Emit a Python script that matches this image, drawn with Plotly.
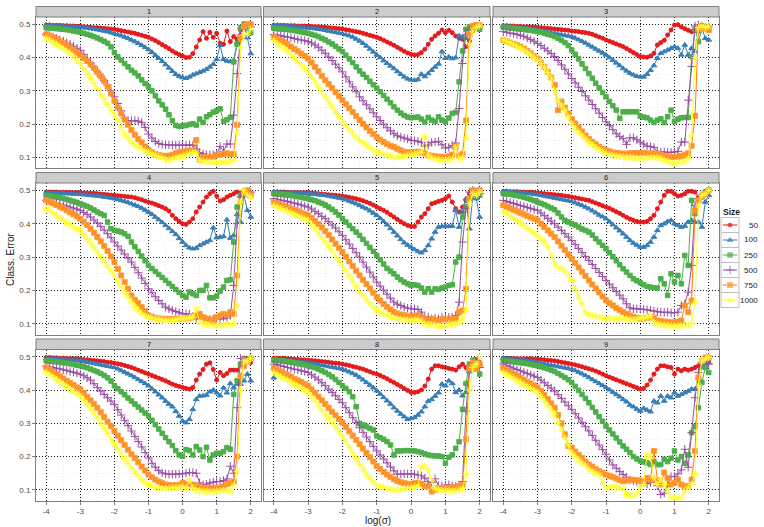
import plotly.graph_objects as go

LOG_SIGMA = [-4.0, -3.9, -3.8, -3.7, -3.6, -3.5, -3.4, -3.3, -3.2, -3.1,
             -3.0, -2.9, -2.8, -2.7, -2.6, -2.5, -2.4, -2.3, -2.2, -2.1,
             -2.0, -1.9, -1.8, -1.7, -1.6, -1.5, -1.4, -1.3, -1.2, -1.1,
             -1.0, -0.9, -0.8, -0.7, -0.6, -0.5, -0.4, -0.3, -0.2, -0.1,
             0.0, 0.1, 0.2, 0.3, 0.4, 0.5, 0.6, 0.7, 0.8, 0.9,
             1.0, 1.1, 1.2, 1.3, 1.4, 1.5, 1.6, 1.7, 1.8, 1.9,
             2.0]

SIZES = ["50", "100", "250", "500", "750", "1000"]
PANELS = ["1", "2", "3", "4", "5", "6", "7", "8", "9"]
X_TICKS = [-4, -3, -2, -1, 0, 1, 2]
Y_TICKS = [0.1, 0.2, 0.3, 0.4, 0.5]

# ---------------- Panel 1 ----------------
P1_S50 = [.498,.498,.497,.497,.497,.496,.496,.495,.495,.494,
          .494,.493,.492,.491,.490,.490,.489,.488,.487,.486,
          .485,.483,.481,.479,.477,.475,.473,.470,.467,.464,
          .461,.456,.451,.445,.439,.433,.427,.420,.414,.409,
          .405,.400,.401,.412,.432,.453,.478,.458,.476,.461,
          .473,.443,.440,.480,.448,.463,.455,.482,.497,.463,
          .498]
P1_S100 = [.497,.497,.496,.496,.495,.494,.494,.493,.492,.492,
           .491,.490,.489,.487,.486,.484,.482,.480,.478,.475,
           .472,.469,.466,.462,.458,.453,.448,.443,.437,.431,
           .424,.416,.407,.398,.389,.379,.369,.359,.350,.344,
           .340,.338,.342,.348,.352,.356,.360,.365,.372,.380,
           .395,.437,.395,.390,.388,.392,.445,.490,.498,.460,
           .412]
P1_S250 = [.490,.489,.488,.487,.486,.485,.484,.482,.480,.478,
           .476,.473,.470,.467,.463,.459,.454,.449,.443,.432,
           .415,.402,.392,.382,.372,.362,.354,.345,.333,.322,
           .312,.300,.285,.270,.258,.245,.228,.210,.196,.193,
           .195,.196,.199,.201,.197,.215,.205,.222,.228,.236,
           .240,.246,.208,.213,.220,.387,.440,.490,.500,.490,
           .475]
P1_S500 = [.470,.466,.462,.458,.454,.450,.445,.440,.434,.428,
           .422,.410,.397,.384,.371,.357,.344,.331,.317,.300,
           .282,.262,.240,.218,.210,.210,.211,.209,.205,.190,
           .170,.158,.148,.142,.139,.138,.137,.137,.137,.137,
           .137,.137,.138,.136,.125,.114,.110,.108,.108,.108,
           .110,.133,.118,.140,.140,.227,.352,.468,.498,.490,
           .492]
P1_S750 = [.470,.466,.461,.456,.450,.444,.437,.430,.423,.415,
           .407,.399,.390,.380,.369,.357,.344,.330,.313,.292,
           .270,.250,.232,.214,.198,.182,.168,.155,.145,.133,
           .122,.115,.110,.107,.105,.104,.105,.108,.112,.115,
           .117,.118,.120,.120,.152,.093,.100,.100,.102,.101,
           .108,.107,.110,.112,.110,.110,.198,.460,.495,.500,
           .500]
P1_S1000 = [.458,.452,.446,.440,.433,.426,.419,.411,.402,.392,
            .382,.368,.353,.338,.322,.307,.291,.275,.259,.243,
            .227,.209,.190,.170,.158,.146,.138,.130,.124,.119,
            .115,.110,.106,.102,.098,.094,.092,.094,.097,.100,
            .103,.108,.112,.115,.113,.090,.088,.087,.086,.085,
            .085,.086,.087,.085,.088,.090,.176,.430,.468,.470,
            .485]

# ---------------- Panel 2 ----------------
P2_S50 = [.497,.497,.497,.497,.496,.496,.496,.495,.495,.495,
          .494,.494,.493,.493,.492,.491,.490,.489,.488,.487,
          .486,.484,.482,.480,.478,.476,.473,.470,.467,.464,
          .461,.457,.452,.447,.442,.437,.431,.425,.419,.414,
          .410,.408,.409,.415,.425,.440,.455,.465,.473,.483,
          .475,.482,.475,.465,.458,.455,.433,.450,.480,.490,
          .495]
P2_S100 = [.497,.497,.496,.496,.495,.494,.493,.492,.491,.490,
           .489,.488,.487,.485,.484,.482,.480,.478,.476,.474,
           .472,.469,.466,.462,.456,.450,.443,.435,.426,.417,
           .408,.400,.391,.383,.375,.367,.358,.350,.342,.336,
           .333,.332,.334,.350,.343,.352,.362,.372,.381,.418,
           .398,.402,.397,.400,.466,.462,.458,.470,.485,.490,
           .492]
P2_S250 = [.488,.487,.486,.485,.484,.483,.481,.479,.477,.475,
           .473,.470,.467,.463,.458,.453,.447,.441,.434,.426,
           .418,.407,.396,.385,.372,.360,.350,.340,.329,.318,
           .308,.297,.286,.275,.264,.252,.242,.233,.226,.221,
           .219,.220,.221,.215,.206,.220,.212,.208,.222,.212,
           .207,.218,.232,.235,.327,.420,.485,.492,.495,.490,
           .485]
P2_S500 = [.470,.468,.466,.464,.462,.460,.457,.455,.453,.451,
           .448,.444,.438,.431,.422,.413,.402,.391,.380,.369,
           .357,.342,.327,.312,.297,.282,.270,.258,.246,.234,
           .222,.211,.200,.189,.180,.171,.165,.161,.158,.155,
           .151,.150,.148,.145,.134,.137,.145,.146,.148,.138,
           .128,.130,.136,.143,.247,.382,.470,.485,.490,.495,
           .495]
P2_S750 = [.461,.457,.452,.446,.440,.433,.426,.419,.412,.405,
           .397,.385,.372,.359,.345,.332,.320,.308,.296,.284,
           .272,.260,.248,.236,.224,.212,.201,.190,.180,.170,
           .161,.153,.146,.140,.135,.131,.126,.121,.117,.115,
           .114,.116,.117,.114,.112,.106,.105,.103,.102,.102,
           .101,.103,.108,.131,.105,.110,.211,.470,.495,.498,
           .497]
P2_S1000 = [.451,.443,.435,.427,.418,.408,.398,.388,.378,.368,
            .357,.342,.327,.312,.297,.282,.267,.252,.237,.222,
            .207,.195,.183,.172,.161,.151,.144,.137,.130,.123,
            .116,.113,.110,.107,.104,.101,.100,.101,.103,.106,
            .108,.110,.112,.115,.162,.105,.098,.095,.093,.091,
            .092,.093,.094,.131,.095,.100,.156,.440,.480,.490,
            .495]

# ---------------- Panel 3 ----------------
P3_S50 = [.496,.496,.495,.495,.494,.494,.493,.493,.492,.492,
          .491,.490,.489,.488,.487,.486,.485,.484,.483,.482,
          .480,.479,.478,.476,.475,.473,.470,.466,.462,.458,
          .453,.449,.445,.441,.437,.433,.427,.421,.415,.409,
          .403,.402,.401,.405,.413,.438,.445,.452,.468,.483,
          .498,.499,.492,.487,.482,.478,.483,.492,.497,.492,
          .487]
P3_S100 = [.495,.494,.493,.492,.491,.490,.489,.488,.486,.485,
           .483,.481,.479,.477,.475,.473,.471,.469,.467,.465,
           .463,.459,.454,.449,.444,.438,.432,.426,.420,.414,
           .408,.400,.392,.384,.376,.367,.360,.353,.348,.344,
           .342,.342,.350,.362,.376,.398,.413,.418,.423,.428,
           .433,.428,.408,.438,.408,.428,.418,.478,.488,.458,
           .453]
P3_S250 = [.491,.490,.489,.488,.487,.486,.485,.483,.482,.480,
           .478,.476,.473,.470,.467,.463,.458,.452,.445,.436,
           .423,.410,.396,.381,.367,.352,.338,.323,.309,.295,
           .282,.268,.255,.242,.217,.237,.237,.237,.237,.237,
           .224,.221,.219,.212,.205,.212,.216,.205,.222,.242,
           .208,.215,.219,.220,.220,.403,.485,.448,.488,.493,
           .488]
P3_S500 = [.478,.476,.474,.472,.470,.468,.464,.459,.454,.449,
           .443,.436,.428,.420,.412,.403,.391,.378,.365,.351,
           .337,.324,.311,.298,.285,.272,.259,.246,.233,.220,
           .207,.195,.183,.171,.163,.156,.139,.159,.159,.153,
           .146,.140,.134,.132,.130,.118,.116,.116,.115,.115,
           .116,.118,.146,.146,.272,.373,.495,.498,.495,.490,
           .495]
P3_S750 = [.453,.449,.445,.441,.437,.433,.427,.420,.413,.405,
           .397,.385,.372,.357,.340,.318,.242,.268,.250,.232,
           .215,.202,.190,.178,.166,.155,.146,.139,.132,.126,
           .121,.118,.115,.113,.112,.111,.111,.112,.113,.113,
           .113,.113,.112,.111,.112,.111,.108,.105,.103,.101,
           .101,.102,.104,.108,.112,.135,.225,.485,.492,.488,
           .483]
P3_S1000 = [.453,.449,.444,.439,.434,.428,.422,.415,.408,.400,
            .392,.382,.370,.355,.338,.300,.272,.257,.242,.222,
            .201,.188,.176,.165,.155,.146,.138,.130,.123,.117,
            .111,.108,.106,.104,.102,.101,.100,.099,.098,.097,
            .096,.097,.098,.099,.099,.099,.097,.091,.088,.082,
            .083,.086,.086,.088,.096,.166,.400,.490,.495,.490,
            .495]

# ---------------- Panel 4 ----------------
P4_S50 = [.495,.495,.495,.495,.494,.494,.494,.494,.493,.493,
          .493,.492,.492,.491,.491,.490,.489,.488,.487,.486,
          .485,.484,.483,.482,.481,.480,.478,.475,.472,.468,
          .465,.462,.458,.454,.450,.445,.438,.425,.415,.407,
          .400,.398,.405,.415,.435,.450,.465,.480,.490,.497,
          .483,.468,.472,.480,.485,.490,.495,.493,.495,.493,
          .487]
P4_S100 = [.493,.493,.492,.492,.491,.491,.490,.490,.489,.489,
           .488,.487,.486,.485,.484,.483,.482,.480,.479,.477,
           .475,.473,.470,.467,.464,.460,.456,.452,.447,.441,
           .435,.428,.420,.412,.404,.395,.386,.377,.368,.356,
           .345,.335,.328,.325,.327,.335,.340,.345,.350,.388,
           .358,.360,.362,.412,.357,.365,.428,.405,.485,.440,
           .420]
P4_S250 = [.485,.484,.482,.480,.478,.476,.473,.470,.467,.464,
           .460,.456,.452,.447,.441,.435,.430,.425,.405,.385,
           .380,.378,.375,.370,.362,.345,.331,.317,.303,.289,
           .275,.266,.257,.248,.239,.230,.221,.212,.203,.194,
           .185,.180,.195,.190,.185,.200,.200,.215,.178,.178,
           .183,.198,.210,.230,.232,.345,.450,.485,.490,.495,
           .487]
P4_S500 = [.470,.468,.465,.462,.459,.456,.453,.450,.447,.444,
           .440,.434,.428,.420,.411,.402,.392,.381,.370,.358,
           .345,.333,.321,.309,.297,.285,.269,.253,.237,.221,
           .205,.193,.181,.170,.160,.150,.145,.141,.137,.133,
           .130,.130,.129,.122,.115,.114,.113,.113,.114,.114,
           .115,.115,.115,.118,.125,.215,.400,.480,.495,.490,
           .495]
P4_S750 = [.470,.466,.461,.456,.451,.446,.440,.434,.428,.422,
           .415,.406,.396,.385,.373,.360,.347,.333,.318,.302,
           .285,.265,.245,.225,.205,.185,.172,.162,.150,.138,
           .125,.121,.118,.116,.115,.115,.115,.115,.115,.115,
           .115,.116,.117,.120,.125,.130,.120,.115,.113,.105,
           .120,.125,.130,.127,.135,.130,.245,.465,.495,.500,
           .485]
P4_S1000 = [.445,.439,.432,.425,.418,.411,.404,.397,.390,.385,
            .380,.368,.355,.342,.329,.315,.301,.287,.273,.259,
            .245,.228,.211,.195,.180,.165,.152,.140,.130,.125,
            .120,.117,.115,.113,.111,.110,.110,.110,.112,.114,
            .115,.115,.118,.120,.145,.105,.100,.098,.097,.096,
            .095,.096,.097,.098,.098,.100,.155,.465,.500,.485,
            .480]

# ---------------- Panel 5 ----------------
P5_S50 = [.495,.495,.495,.495,.494,.494,.494,.494,.493,.493,
          .493,.492,.491,.490,.489,.488,.487,.486,.485,.484,
          .483,.481,.479,.477,.475,.472,.469,.465,.461,.456,
          .450,.445,.440,.434,.427,.420,.413,.406,.400,.395,
          .392,.392,.405,.420,.430,.445,.460,.463,.467,.470,
          .475,.483,.465,.445,.435,.450,.470,.490,.495,.490,
          .495]
P5_S100 = [.495,.495,.494,.494,.493,.493,.492,.492,.491,.491,
           .490,.489,.488,.487,.486,.485,.483,.481,.479,.477,
           .475,.472,.468,.464,.460,.455,.450,.445,.439,.432,
           .425,.416,.407,.397,.386,.375,.364,.353,.343,.336,
           .330,.323,.317,.313,.320,.335,.355,.375,.390,.392,
           .393,.392,.393,.440,.390,.435,.475,.385,.480,.475,
           .420]
P5_S250 = [.490,.489,.488,.487,.486,.485,.483,.481,.479,.477,
           .475,.472,.469,.465,.461,.456,.450,.443,.435,.426,
           .415,.405,.395,.385,.375,.365,.353,.341,.329,.317,
           .305,.292,.279,.266,.258,.250,.240,.232,.225,.220,
           .215,.217,.215,.207,.195,.205,.195,.205,.203,.207,
           .210,.215,.217,.285,.300,.420,.450,.475,.485,.490,
           .485]
P5_S500 = [.475,.473,.471,.469,.467,.464,.462,.459,.456,.453,
           .450,.444,.437,.430,.422,.415,.406,.396,.387,.376,
           .365,.352,.339,.326,.313,.300,.285,.270,.255,.240,
           .225,.213,.201,.189,.177,.165,.159,.155,.150,.147,
           .145,.145,.143,.135,.120,.120,.115,.117,.115,.120,
           .120,.120,.120,.125,.165,.345,.445,.495,.500,.495,
           .490]
P5_S750 = [.465,.461,.457,.453,.449,.445,.441,.437,.433,.429,
           .425,.417,.408,.399,.389,.378,.366,.353,.340,.328,
           .315,.301,.287,.273,.259,.245,.232,.219,.206,.193,
           .180,.170,.160,.151,.143,.135,.131,.128,.126,.124,
           .123,.124,.125,.120,.113,.110,.115,.112,.110,.113,
           .115,.110,.115,.115,.135,.140,.205,.475,.500,.495,
           .500]
P5_S1000 = [.455,.450,.446,.441,.437,.432,.428,.423,.419,.414,
            .410,.398,.385,.371,.358,.345,.331,.317,.303,.289,
            .275,.259,.243,.227,.211,.195,.184,.173,.162,.151,
            .140,.135,.130,.126,.121,.117,.115,.113,.112,.111,
            .110,.111,.112,.108,.100,.098,.097,.096,.093,.091,
            .093,.100,.097,.100,.103,.115,.140,.460,.490,.485,
            .495]

# ---------------- Panel 6 ----------------
P6_S50 = [.497,.497,.496,.496,.496,.495,.495,.494,.494,.493,
          .492,.491,.490,.489,.488,.487,.486,.485,.483,.482,
          .480,.478,.476,.474,.472,.470,.466,.462,.458,.454,
          .450,.446,.441,.436,.431,.425,.419,.414,.410,.407,
          .405,.405,.407,.415,.425,.445,.465,.485,.497,.497,
          .490,.483,.485,.490,.497,.497,.495,.480,.485,.497,
          .500]
P6_S100 = [.497,.497,.496,.495,.494,.493,.492,.491,.490,.488,
           .487,.485,.483,.481,.479,.477,.475,.473,.471,.469,
           .467,.463,.459,.455,.450,.445,.439,.433,.426,.421,
           .415,.406,.397,.388,.379,.370,.360,.350,.342,.336,
           .330,.330,.335,.345,.360,.380,.395,.400,.407,.410,
           .400,.395,.390,.393,.405,.410,.405,.405,.390,.465,
           .485]
P6_S250 = [.490,.489,.488,.486,.484,.482,.479,.476,.473,.469,
           .465,.461,.457,.452,.447,.442,.432,.420,.410,.405,
           .400,.396,.390,.384,.380,.375,.366,.355,.345,.335,
           .325,.313,.301,.289,.277,.265,.255,.245,.235,.229,
           .223,.217,.212,.210,.208,.207,.235,.220,.185,.250,
           .225,.245,.220,.305,.275,.470,.430,.470,.485,.495,
           .500]
P6_S500 = [.470,.467,.464,.461,.458,.455,.452,.449,.446,.443,
           .440,.432,.424,.416,.408,.400,.390,.380,.370,.360,
           .350,.338,.326,.314,.302,.290,.278,.266,.254,.242,
           .230,.219,.208,.197,.186,.175,.160,.148,.145,.145,
           .145,.143,.142,.140,.138,.136,.135,.134,.135,.133,
           .133,.135,.155,.160,.195,.275,.455,.475,.485,.490,
           .500]
P6_S750 = [.455,.451,.446,.442,.437,.433,.428,.424,.419,.415,
           .410,.400,.390,.380,.370,.360,.347,.334,.321,.308,
           .295,.282,.269,.256,.243,.230,.218,.206,.194,.182,
           .170,.162,.155,.148,.141,.135,.130,.125,.121,.118,
           .115,.116,.118,.120,.118,.110,.108,.107,.106,.105,
           .105,.107,.110,.155,.135,.170,.440,.470,.480,.490,
           .500]
P6_S1000 = [.435,.430,.424,.418,.410,.402,.394,.386,.378,.372,
            .365,.355,.345,.330,.305,.280,.270,.265,.258,.245,
            .230,.205,.180,.160,.135,.128,.125,.123,.121,.118,
            .115,.115,.115,.115,.115,.115,.114,.113,.112,.113,
            .117,.118,.120,.125,.105,.100,.097,.096,.095,.094,
            .093,.093,.094,.096,.097,.100,.165,.455,.485,.490,
            .500]

# ---------------- Panel 7 ----------------
P7_S50 = [.498,.498,.497,.497,.496,.496,.495,.495,.494,.494,
          .493,.492,.491,.490,.489,.488,.487,.486,.484,.483,
          .481,.479,.477,.474,.471,.468,.464,.460,.456,.452,
          .448,.444,.440,.436,.432,.428,.423,.418,.414,.411,
          .408,.405,.403,.408,.430,.448,.462,.478,.482,.462,
          .430,.453,.443,.450,.460,.460,.460,.478,.496,.490,
          .483]
P7_S100 = [.495,.495,.494,.494,.493,.492,.491,.490,.490,.489,
           .488,.486,.484,.482,.480,.478,.476,.474,.472,.470,
           .468,.464,.459,.454,.449,.444,.438,.432,.426,.420,
           .413,.404,.395,.386,.377,.367,.358,.350,.336,.322,
           .307,.302,.312,.342,.372,.382,.383,.385,.395,.400,
           .392,.383,.407,.392,.420,.407,.418,.418,.428,.448,
           .428]
P7_S250 = [.488,.487,.486,.485,.484,.482,.481,.479,.477,.475,
           .473,.470,.467,.463,.459,.455,.450,.444,.437,.427,
           .413,.404,.395,.386,.376,.367,.358,.349,.340,.331,
           .322,.309,.296,.283,.270,.257,.245,.233,.218,.205,
           .201,.221,.218,.205,.230,.220,.200,.228,.190,.205,
           .210,.210,.215,.227,.222,.387,.428,.478,.493,.488,
           .493]
P7_S500 = [.472,.470,.468,.466,.464,.461,.459,.456,.454,.451,
           .448,.443,.437,.430,.419,.407,.397,.387,.377,.367,
           .357,.341,.325,.309,.293,.277,.261,.245,.229,.212,
           .196,.180,.168,.158,.151,.148,.147,.147,.147,.148,
           .148,.150,.152,.152,.150,.121,.115,.117,.121,.123,
           .125,.125,.128,.133,.171,.150,.347,.495,.490,.490,
           .495]
P7_S750 = [.468,.462,.455,.448,.441,.435,.428,.421,.415,.408,
           .402,.391,.380,.369,.358,.347,.333,.319,.305,.291,
           .277,.263,.249,.235,.221,.207,.195,.183,.170,.158,
           .146,.138,.131,.125,.120,.116,.115,.114,.114,.115,
           .121,.117,.118,.116,.113,.110,.106,.106,.106,.106,
           .106,.107,.110,.118,.120,.125,.200,.442,.472,.485,
           .495]
P7_S1000 = [.453,.446,.439,.432,.425,.418,.411,.403,.396,.389,
            .382,.369,.356,.343,.330,.317,.301,.285,.269,.253,
            .237,.223,.209,.194,.180,.166,.154,.142,.131,.122,
            .116,.111,.107,.105,.104,.104,.104,.105,.106,.107,
            .108,.104,.131,.106,.098,.097,.096,.095,.094,.094,
            .096,.097,.098,.097,.096,.112,.156,.400,.488,.485,
            .495]

# ---------------- Panel 8 ----------------
P8_S50 = [.496,.496,.495,.495,.494,.494,.493,.492,.491,.491,
          .490,.489,.488,.487,.486,.485,.484,.482,.481,.480,
          .478,.476,.474,.471,.469,.466,.463,.459,.455,.451,
          .448,.444,.439,.434,.428,.423,.417,.411,.405,.399,
          .393,.393,.395,.400,.412,.433,.463,.473,.473,.470,
          .468,.465,.463,.460,.470,.478,.468,.460,.483,.493,
          .483]
P8_S100 = [.437,.492,.491,.490,.489,.488,.487,.486,.485,.484,
           .483,.481,.479,.477,.475,.473,.471,.469,.467,.465,
           .463,.459,.455,.450,.445,.438,.431,.423,.415,.407,
           .398,.388,.378,.368,.358,.347,.337,.328,.320,.312,
           .315,.318,.325,.335,.350,.367,.372,.382,.392,.418,
           .413,.428,.420,.393,.400,.383,.393,.455,.483,.473,
           .478]
P8_S250 = [.490,.489,.488,.487,.485,.484,.482,.480,.478,.476,
           .473,.470,.467,.463,.458,.453,.447,.440,.432,.423,
           .413,.405,.395,.380,.350,.300,.295,.290,.285,.280,
           .262,.257,.252,.245,.235,.205,.217,.217,.218,.218,
           .218,.217,.215,.212,.208,.205,.203,.202,.202,.200,
           .180,.198,.205,.225,.245,.342,.420,.478,.490,.475,
           .448]
P8_S500 = [.478,.476,.473,.471,.468,.466,.463,.461,.458,.456,
           .453,.446,.439,.431,.422,.413,.403,.393,.383,.372,
           .362,.347,.332,.317,.302,.287,.273,.259,.245,.231,
           .217,.205,.193,.181,.169,.157,.147,.147,.148,.148,
           .148,.147,.145,.142,.135,.125,.122,.133,.113,.112,
           .114,.115,.112,.110,.113,.125,.337,.458,.483,.488,
           .468]
P8_S750 = [.466,.461,.456,.450,.445,.440,.434,.429,.424,.418,
           .413,.402,.391,.380,.369,.358,.347,.335,.324,.313,
           .302,.289,.276,.263,.250,.237,.224,.211,.198,.185,
           .172,.163,.154,.146,.139,.132,.127,.123,.120,.118,
           .117,.120,.122,.118,.111,.111,.095,.100,.106,.104,
           .106,.106,.107,.108,.112,.115,.252,.465,.483,.463,
           .478]
P8_S1000 = [.453,.447,.441,.435,.429,.423,.417,.411,.405,.399,
            .393,.380,.367,.354,.341,.328,.315,.302,.288,.275,
            .262,.245,.228,.211,.194,.177,.162,.148,.135,.123,
            .113,.110,.107,.104,.102,.100,.100,.101,.103,.105,
            .106,.107,.111,.170,.172,.160,.130,.105,.100,.098,
            .097,.097,.097,.097,.098,.103,.146,.400,.468,.478,
            .500]

# ---------------- Panel 9 ----------------
P9_S50 = [.496,.496,.495,.495,.495,.494,.494,.494,.494,.493,
          .493,.492,.491,.490,.489,.488,.486,.484,.482,.480,
          .478,.476,.473,.470,.467,.464,.461,.457,.453,.448,
          .443,.439,.435,.431,.427,.423,.419,.415,.411,.407,
          .403,.405,.415,.430,.448,.463,.473,.473,.470,.468,
          .448,.463,.458,.463,.460,.463,.468,.473,.488,.493,
          .488]
P9_S100 = [.496,.495,.494,.493,.492,.491,.490,.488,.487,.485,
           .483,.481,.479,.477,.475,.473,.471,.469,.467,.465,
           .463,.459,.454,.449,.444,.438,.432,.426,.420,.414,
           .408,.401,.394,.387,.380,.372,.365,.355,.350,.343,
           .337,.345,.340,.335,.367,.362,.382,.367,.382,.377,
           .392,.382,.387,.392,.397,.403,.403,.438,.468,.478,
           .483]
P9_S250 = [.488,.487,.486,.485,.484,.482,.481,.479,.477,.475,
           .473,.470,.467,.464,.460,.456,.450,.444,.438,.431,
           .423,.411,.399,.387,.375,.362,.348,.334,.320,.306,
           .292,.280,.268,.256,.244,.232,.222,.212,.200,.193,
           .187,.184,.181,.176,.185,.176,.176,.192,.185,.195,
           .217,.190,.200,.180,.205,.272,.290,.347,.423,.468,
           .453]
P9_S500 = [.478,.474,.470,.466,.462,.458,.454,.450,.446,.442,
           .438,.430,.422,.414,.406,.397,.386,.375,.364,.353,
           .342,.329,.316,.303,.290,.277,.263,.249,.235,.221,
           .207,.190,.175,.165,.155,.146,.138,.130,.127,.124,
           .121,.121,.118,.122,.133,.112,.086,.090,.115,.140,
           .140,.148,.160,.222,.168,.272,.377,.453,.483,.488,
           .478]
P9_S750 = [.466,.460,.454,.448,.443,.437,.431,.425,.420,.414,
           .408,.397,.385,.373,.360,.347,.325,.300,.267,.232,
           .227,.215,.205,.196,.185,.176,.170,.162,.156,.151,
           .146,.142,.138,.134,.130,.126,.128,.131,.130,.129,
           .128,.121,.136,.131,.217,.128,.116,.152,.136,.116,
           .121,.131,.116,.111,.111,.131,.217,.438,.488,.498,
           .498]
P9_S1000 = [.453,.447,.441,.435,.429,.423,.417,.411,.405,.399,
            .393,.380,.367,.353,.340,.327,.303,.280,.257,.235,
            .212,.200,.190,.180,.172,.161,.155,.150,.145,.125,
            .106,.108,.110,.108,.106,.105,.086,.083,.081,.090,
            .106,.116,.207,.199,.136,.116,.131,.116,.096,.076,
            .076,.074,.076,.096,.106,.116,.146,.415,.488,.493,
            .498]

PANEL_DATA = [
    [P1_S50, P1_S100, P1_S250, P1_S500, P1_S750, P1_S1000],
    [P2_S50, P2_S100, P2_S250, P2_S500, P2_S750, P2_S1000],
    [P3_S50, P3_S100, P3_S250, P3_S500, P3_S750, P3_S1000],
    [P4_S50, P4_S100, P4_S250, P4_S500, P4_S750, P4_S1000],
    [P5_S50, P5_S100, P5_S250, P5_S500, P5_S750, P5_S1000],
    [P6_S50, P6_S100, P6_S250, P6_S500, P6_S750, P6_S1000],
    [P7_S50, P7_S100, P7_S250, P7_S500, P7_S750, P7_S1000],
    [P8_S50, P8_S100, P8_S250, P8_S500, P8_S750, P8_S1000],
    [P9_S50, P9_S100, P9_S250, P9_S500, P9_S750, P9_S1000],
]
for pi, series in enumerate(PANEL_DATA):
    for si, s in enumerate(series):
        assert len(s) == len(LOG_SIGMA), (pi + 1, SIZES[si], len(s))

# ---------------- Styling ----------------
W, H = 764, 527
COLORS = ["#E41A1C", "#377EB8", "#4DAF4A", "#984EA3", "#FF7F00", "#FFFF33"]
MARKER_LINE = ["#E41A1C", "#377EB8", "#4DAF4A", "#984EA3", "#FFA040", "#FFFF33"]
SYMBOLS = ["circle", "triangle-up", "square", "cross-thin-open", "square-x", "asterisk-open"]
MSIZE = [4, 5, 4.5, 6, 5, 6]
FONT = "Liberation Sans, Arial, Helvetica, sans-serif"
TXT = "#4d4d4d"

COL_X = [(36, 261), (263.5, 490), (493, 719)]
ROW_Y = [(17, 168), (183, 334.5), (349.5, 500.5)]
STRIP_H = 10.5

fig = go.Figure()
layout = dict(
    width=W, height=H, margin=dict(l=0, r=0, t=0, b=0),
    paper_bgcolor="white", plot_bgcolor="white",
    font=dict(family=FONT, size=8, color=TXT),
    showlegend=False,
)
shapes = []
annotations = []

for k in range(9):
    r, c = divmod(k, 3)
    xs = "" if k == 0 else str(k + 1)
    xl, xr = COL_X[c]
    yt, yb = ROW_Y[r]
    common = dict(
        showline=True, mirror=True, linecolor="#7f7f7f", linewidth=1,
        zeroline=False, showgrid=True, gridcolor="#1a1a1a", gridwidth=0.7,
        griddash="1px,2px",
        tickfont=dict(family=FONT, size=8, color=TXT),
        tickcolor="#7f7f7f", ticklen=3,
    )
    layout["xaxis" + xs] = dict(
        common, domain=[xl / W, xr / W], range=[-4.3, 2.3], anchor="y" + xs,
        tickmode="array", tickvals=X_TICKS, ticktext=[str(v) for v in X_TICKS],
        showticklabels=(r == 2), ticks="outside" if r == 2 else "",
        minor=dict(dtick=0.5, tick0=-4, showgrid=True, gridcolor="#ebebeb", gridwidth=0.6),
    )
    layout["yaxis" + xs] = dict(
        common, domain=[1 - yb / H, 1 - yt / H], range=[0.068, 0.522], anchor="x" + xs,
        tickmode="array", tickvals=Y_TICKS, ticktext=[f"{v:.1f}" for v in Y_TICKS],
        showticklabels=(c == 0), ticks="outside" if c == 0 else "",
        minor=dict(dtick=0.05, tick0=0.1, showgrid=True, gridcolor="#ebebeb", gridwidth=0.6),
    )
    shapes.append(dict(type="rect", xref="paper", yref="paper",
                       x0=xl / W, x1=xr / W, y0=1 - yt / H, y1=1 - (yt - STRIP_H) / H,
                       fillcolor="#cccccc", line=dict(color="#7f7f7f", width=1), layer="above"))
    annotations.append(dict(text=PANELS[k], xref="paper", yref="paper",
                            x=(xl + xr) / 2 / W, y=1 - (yt - STRIP_H / 2) / H,
                            showarrow=False, font=dict(size=7.5, color="#1a1a1a"),
                            xanchor="center", yanchor="middle"))
    for si in range(6):
        fig.add_trace(go.Scatter(
            x=LOG_SIGMA, y=PANEL_DATA[k][si], mode="lines+markers",
            xaxis="x" + xs, yaxis="y" + xs, name=SIZES[si],
            line=dict(color=COLORS[si], width=1),
            marker=dict(symbol=SYMBOLS[si], size=MSIZE[si], color=COLORS[si],
                        line=dict(color=MARKER_LINE[si], width=1)),
            hoverinfo="skip",
        ))

annotations.append(dict(text="Class. Error", xref="paper", yref="paper",
                        x=10 / W, y=1 - 260 / H, textangle=-90, showarrow=False,
                        font=dict(size=10, color="#1a1a1a"), xanchor="center", yanchor="middle"))
annotations.append(dict(text="log(σ)", xref="paper", yref="paper",
                        x=377.5 / W, y=1 - 520 / H, showarrow=False,
                        font=dict(size=10, color="#1a1a1a"), xanchor="center", yanchor="middle"))

# custom legend
LEG_TOP = 217.5
LEG_STEP = 15
KEY_L, KEY_R = 721, 739
annotations.append(dict(text="<b>Size</b>", xref="paper", yref="paper",
                        x=KEY_L / W, y=1 - (LEG_TOP - 6) / H, showarrow=False,
                        font=dict(size=8.5, color="#1a1a1a"), xanchor="left", yanchor="middle"))
layout["xaxis10"] = dict(domain=[KEY_L / W, KEY_R / W], range=[0, 1], visible=False,
                         anchor="y10", fixedrange=True)
layout["yaxis10"] = dict(domain=[1 - (LEG_TOP + 6 * LEG_STEP) / H, 1 - LEG_TOP / H],
                         range=[6, 0], visible=False, anchor="x10", fixedrange=True)
for si in range(6):
    y0 = LEG_TOP + si * LEG_STEP
    shapes.append(dict(type="rect", xref="paper", yref="paper",
                       x0=KEY_L / W, x1=KEY_R / W, y0=1 - (y0 + LEG_STEP) / H, y1=1 - y0 / H,
                       fillcolor="white", line=dict(color="#bfbfbf", width=1), layer="below"))
    fig.add_trace(go.Scatter(
        x=[0.1, 0.5, 0.9], y=[si + 0.5] * 3, mode="lines+markers",
        xaxis="x10", yaxis="y10",
        line=dict(color=COLORS[si], width=1),
        marker=dict(symbol=SYMBOLS[si], size=[0, MSIZE[si], 0], color=COLORS[si],
                    line=dict(color=MARKER_LINE[si], width=1)),
        hoverinfo="skip",
    ))
    annotations.append(dict(text=SIZES[si], xref="paper", yref="paper",
                            x=760 / W, y=1 - (y0 + LEG_STEP / 2) / H, showarrow=False,
                            font=dict(size=8, color="#1a1a1a"), xanchor="right", yanchor="middle"))

layout["shapes"] = shapes
layout["annotations"] = annotations
fig.update_layout(**layout)
fig.write_html("out.html")
